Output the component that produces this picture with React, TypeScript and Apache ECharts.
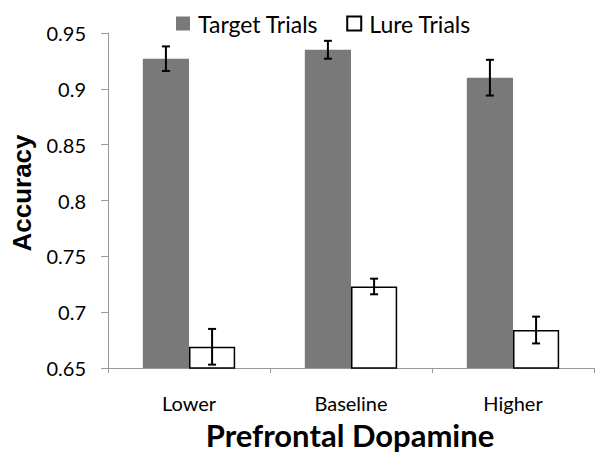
import React, { useEffect, useRef } from "react";
import * as echarts from "echarts";

const categories = ["Lower", "Baseline", "Higher"];
const targetValues = [0.927, 0.935, 0.91];
const targetErrors = [0.011, 0.008, 0.016];
const lureValues = [0.669, 0.723, 0.684];
const lureErrors = [0.016, 0.007, 0.012];
const seriesNames = ["Target Trials", "Lure Trials"];
const yTitle = "Accuracy";
const xTitle = "Prefrontal Dopamine";

const FONT = "Lato, 'Open Sans', sans-serif";
const CAT_GAP = 0.43;

export default function App() {
  const ref = useRef<HTMLDivElement>(null);
  useEffect(() => {
    if (!ref.current) return;
    const chart = echarts.init(ref.current, null, { renderer: "svg" });

    const errData = (vals: number[], errs: number[]) =>
      vals.map((v, i) => [i, v - errs[i], v + errs[i]]);

    const makeErr = (sIdx: number) => (params: any, api: any) => {
      const i = api.value(0);
      const lo = api.coord([i, api.value(1)]);
      const hi = api.coord([i, api.value(2)]);
      const band = api.size([1, 0])[0];
      const bw = (band * (1 - CAT_GAP)) / 2;
      const x = lo[0] + (sIdx === 0 ? -bw / 2 : bw / 2);
      const cap = 4;
      const st = { stroke: "#000", lineWidth: 2 };
      return {
        type: "group",
        children: [
          { type: "line", shape: { x1: x, y1: lo[1], x2: x, y2: hi[1] }, style: st },
          { type: "line", shape: { x1: x - cap, y1: lo[1], x2: x + cap, y2: lo[1] }, style: st },
          { type: "line", shape: { x1: x - cap, y1: hi[1], x2: x + cap, y2: hi[1] }, style: st },
        ],
      };
    };

    chart.setOption({
      animation: false,
      backgroundColor: "#fff",
      textStyle: { fontFamily: FONT },
      legend: {
        top: 7,
        left: 171,
        itemWidth: 14,
        itemHeight: 14,
        itemGap: 28,
        icon: "rect",
        data: seriesNames,
        textStyle: { fontSize: 23, color: "#000", fontFamily: FONT, padding: [0, 0, 0, 3] },
      },
      grid: { left: 108, right: 6, top: 33, bottom: 88 },
      graphic: [
        {
          type: "text",
          x: 22,
          y: 193,
          rotation: Math.PI / 2,
          style: {
            text: yTitle,
            font: "bold 26px 'Liberation Sans', Arial, sans-serif",
            fill: "#000",
            align: "center",
            verticalAlign: "middle",
          },
        },
        {
          type: "text",
          x: 350,
          y: 435,
          style: {
            text: xTitle,
            font: "bold 31px Lato, 'Open Sans', sans-serif",
            fill: "#000",
            align: "center",
            verticalAlign: "middle",
          },
        },
      ],
      xAxis: {
        type: "category",
        data: categories,
        axisLine: { lineStyle: { color: "#999", width: 1 } },
        axisTick: { show: true, length: 5, lineStyle: { color: "#999" } },
        axisLabel: { fontSize: 20, color: "#000", margin: 25, fontFamily: FONT },
      },
      yAxis: {
        type: "value",
        min: 0.65,
        max: 0.95,
        interval: 0.05,
        splitLine: { show: false },
        axisLine: { show: true, lineStyle: { color: "#999", width: 1 } },
        axisTick: { show: true, length: 7, lineStyle: { color: "#999" } },
        axisLabel: {
          fontSize: 20,
          color: "#000",
          margin: 22,
          fontFamily: FONT,
          formatter: (v: number) => String(+v.toFixed(2)),
        },
      },
      series: [
        {
          name: seriesNames[0],
          type: "bar",
          data: targetValues,
          barGap: "0%",
          barCategoryGap: CAT_GAP * 100 + "%",
          itemStyle: { color: "#797979" },
        },
        {
          name: seriesNames[1],
          type: "bar",
          data: lureValues,
          barGap: "0%",
          barCategoryGap: CAT_GAP * 100 + "%",
          itemStyle: { color: "#fff", borderColor: "#000", borderWidth: 1.5 },
        },
        {
          type: "custom",
          data: errData(targetValues, targetErrors),
          encode: { x: 0, y: [1, 2] },
          renderItem: makeErr(0),
          z: 10,
          silent: true,
        },
        {
          type: "custom",
          data: errData(lureValues, lureErrors),
          encode: { x: 0, y: [1, 2] },
          renderItem: makeErr(1),
          z: 10,
          silent: true,
        },
      ],
    });
    return () => chart.dispose();
  }, []);
  return (
    <div
      ref={ref}
      style={{ position: "absolute", left: 0, top: 0, width: 600, height: 456 }}
    />
  );
}
